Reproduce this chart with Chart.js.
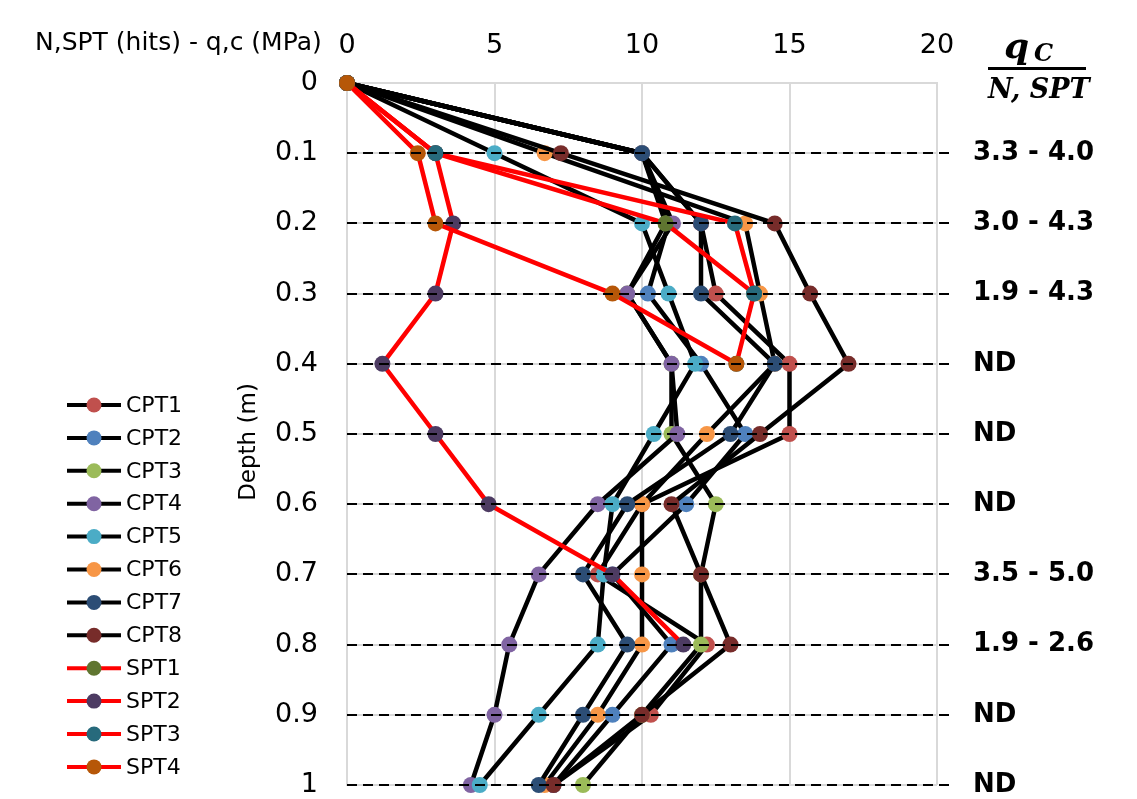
<!DOCTYPE html>
<html>
<head>
<meta charset="utf-8">
<script src="https://cdn.jsdelivr.net/npm/chart.js@4.4.1/dist/chart.umd.min.js"></script>
<style>
  html, body { margin: 0; padding: 0; background: #fff; }
  #wrap { position: relative; width: 1137px; height: 799px; }
</style>
</head>
<body>
<div id="wrap"><canvas id="myChart"></canvas></div>
<script>
// depth levels (m) and their tick labels
const depths = [0, 0.1, 0.2, 0.3, 0.4, 0.5, 0.6, 0.7, 0.8, 0.9, 1.0];
const depthLabels = ["0", "0.1", "0.2", "0.3", "0.4", "0.5", "0.6", "0.7", "0.8", "0.9", "1"];

// CPT cone resistance q,c (MPa) at each depth
const cpt1 = [0, 10, 12.0, 12.5, 15.0, 15.0, 10.0, 8.5, 12.2, 10.3, 7.0];
const cpt2 = [0, 10, 10.9, 10.2, 12.0, 13.5, 11.5, 9.0, 11.0, 9.0, 7.0];
const cpt3 = [0, 10, 10.8, 9.5, 11.0, 11.0, 12.5, 12.0, 12.0, 10.0, 8.0];
const cpt4 = [0, 10, 11.05, 9.5, 11.0, 11.2, 8.5, 6.5, 5.5, 5.0, 4.2];
const cpt5 = [0, 5.0, 10.0, 10.9, 11.8, 10.4, 9.0, 8.7, 8.5, 6.5, 4.5];
const cpt6 = [0, 6.7, 13.5, 14.0, 14.5, 12.2, 10.0, 10.0, 10.0, 8.5, 6.7];
const cpt7 = [0, 10, 12.0, 12.0, 14.5, 13.0, 9.5, 8.0, 9.5, 8.0, 6.5];
const cpt8 = [0, 7.25, 14.5, 15.7, 17.0, 14.0, 11.0, 12.0, 13.0, 10.0, 7.0];

// SPT blow counts N (hits)
const spt1 = [0, 3.0, 10.8, 13.8];
const spt2 = [0, 3.0, 3.6, 3.0, 1.2, 3.0, 4.8, 9.0, 11.4];
const spt3 = [0, 3.0, 13.15, 13.8, 13.2];
const spt4 = [0, 2.4, 3.0, 9.0, 13.2];

const seriesNames = ["CPT1", "CPT2", "CPT3", "CPT4", "CPT5", "CPT6", "CPT7", "CPT8",
  "SPT1", "SPT2", "SPT3", "SPT4"];
const seriesValues = [cpt1, cpt2, cpt3, cpt4, cpt5, cpt6, cpt7, cpt8, spt1, spt2, spt3, spt4];

// qc / N,SPT ratio range per depth (0.1 .. 1.0)
const ratioLabels = ["3.3 - 4.0", "3.0 - 4.3", "1.9 - 4.3", "ND", "ND", "ND",
  "3.5 - 5.0", "1.9 - 2.6", "ND", "ND"];

// marker colours
const markerColors = ["#c0504d", "#4f81bd", "#9bbb59", "#8064a2", "#4bacc6", "#f79646",
  "#2c4d75", "#772c2a", "#5f7530", "#4d3b62", "#276a7c", "#b65708"];

const FONT = "DejaVu Sans";

const datasets = seriesValues.map((vals, i) => ({
  label: seriesNames[i],
  data: vals.map((v, k) => ({ x: v, y: depths[k] })),
  showLine: true,
  borderColor: seriesNames[i].startsWith("SPT") ? "#ff0000" : "#000000",
  borderWidth: 4.5,
  pointBackgroundColor: markerColors[i],
  pointBorderColor: markerColors[i],
  pointBorderWidth: 0,
  pointRadius: 8,
  pointHoverRadius: 8,
  tension: 0,
  clip: false,
  // later series sit on top
  order: seriesNames.length - i
}));

// dashed depth lines, drawn over the markers
const depthLines = {
  id: "depthLines",
  afterDatasetsDraw(chart) {
    const { ctx, scales: { x, y } } = chart;
    ctx.save();
    ctx.strokeStyle = "#000";
    ctx.lineWidth = 2;
    ctx.setLineDash([10, 6]);
    depths.slice(1).forEach((d) => {
      const py = Math.round(y.getPixelForValue(d));
      ctx.beginPath();
      ctx.moveTo(x.getPixelForValue(0), py);
      ctx.lineTo(x.getPixelForValue(20.5), py);
      ctx.stroke();
    });
    ctx.restore();
  }
};

// ratio labels, header, axis captions and legend
const extras = {
  id: "extras",
  afterDraw(chart) {
    const { ctx, chartArea, scales: { y } } = chart;
    ctx.save();
    ctx.fillStyle = "#000";

    // axis caption, top left
    ctx.font = "25px '" + FONT + "'";
    ctx.textBaseline = "middle";
    ctx.textAlign = "left";
    ctx.fillText("N,SPT (hits) - q,c (MPa)", 35, 43);

    // depth caption
    ctx.save();
    ctx.translate(249, (chartArea.top + chartArea.bottom) / 2 + 8);
    ctx.rotate(-Math.PI / 2);
    ctx.textAlign = "center";
    ctx.font = "23px '" + FONT + "'";
    ctx.fillText("Depth (m)", 0, 0);
    ctx.restore();

    // ratio column
    ctx.font = "bold 26px '" + FONT + "'";
    ratioLabels.forEach((t, i) => {
      ctx.fillText(t, 973, y.getPixelForValue(depths[i + 1]));
    });

    // q_c / N,SPT header
    ctx.textBaseline = "alphabetic";
    ctx.font = "bold italic 36px 'DejaVu Serif'";
    ctx.fillText("q", 1004, 58);
    ctx.font = "bold italic 24px 'DejaVu Serif'";
    ctx.fillText("C", 1034, 61);
    ctx.fillRect(988, 67, 98, 3);
    ctx.font = "bold italic 27px 'DejaVu Serif'";
    ctx.fillText("N, SPT", 988, 98);

    // legend
    ctx.font = "22px '" + FONT + "'";
    ctx.textBaseline = "middle";
    chart.data.datasets.forEach((ds, i) => {
      const cy = 405 + i * 32.9;
      ctx.strokeStyle = ds.borderColor;
      ctx.lineWidth = 4;
      ctx.beginPath();
      ctx.moveTo(67, cy);
      ctx.lineTo(121, cy);
      ctx.stroke();
      ctx.fillStyle = ds.pointBackgroundColor;
      ctx.beginPath();
      ctx.arc(94, cy, 7.5, 0, Math.PI * 2);
      ctx.fill();
      ctx.fillStyle = "#000";
      ctx.fillText(ds.label, 126, cy + 1);
    });
    ctx.restore();
  }
};

const config = {
  type: "scatter",
  data: { datasets },
  options: {
    responsive: true,
    maintainAspectRatio: false,
    animation: false,
    events: [],
    layout: { padding: { left: 0, right: 200, top: 0, bottom: 14 } },
    plugins: {
      legend: { display: false },
      tooltip: { enabled: false }
    },
    scales: {
      x: {
        type: "linear",
        position: "top",
        min: 0,
        max: 20,
        afterFit(s) { s.height = 83; s.paddingLeft = 0; s.paddingRight = 0; },
        ticks: {
          stepSize: 5,
          color: "#000",
          font: { family: FONT, size: 27 },
          padding: 21,
          maxRotation: 0
        },
        grid: { color: "#d9d9d9", lineWidth: 2, drawTicks: false },
        border: { color: "#d9d9d9", width: 2 }
      },
      y: {
        type: "linear",
        reverse: true,
        min: 0,
        max: 1,
        afterFit(s) { s.width = 347; s.paddingTop = 0; s.paddingBottom = 0; },
        ticks: {
          stepSize: 0.1,
          autoSkip: false,
          color: "#000",
          font: { family: FONT, size: 27 },
          padding: 29,
          callback: (v) => depthLabels[Math.round(v * 10)]
        },
        grid: { color: "#d9d9d9", lineWidth: 2, drawTicks: false },
        border: { color: "#d9d9d9", width: 2 }
      }
    }
  },
  plugins: [depthLines, extras]
};

const myChart = new Chart(document.getElementById("myChart"), config);
</script>
</body>
</html>
